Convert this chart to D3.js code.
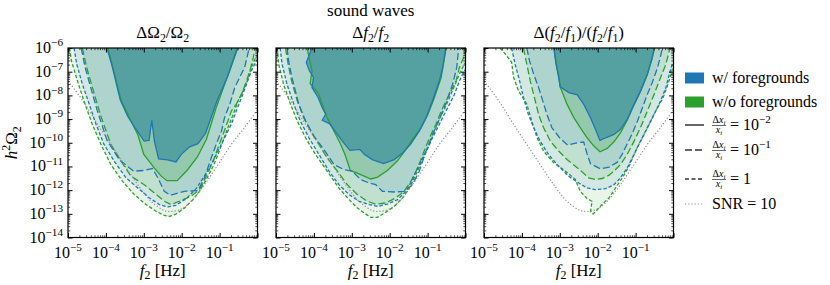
<!DOCTYPE html>
<html>
<head>
<meta charset="utf-8">
<script src="https://cdn.jsdelivr.net/npm/d3@7"></script>
<style>
body { margin: 0; background: #fff; }
</style>
</head>
<body>
<div id="chart"></div>
<script>
// ---- data: contour outlines as [log10 f2, log10 h^2 Omega2] ----
var xMajor = [-5, -4, -3, -2, -1, 0];
var xLabels = [-5, -4, -3, -2, -1];
var yMajor = [-6, -7, -8, -9, -10, -11, -12, -13, -14];

var snrCurve = [[-5.0,-7.40],[-4.93,-7.53],[-4.58,-8.30],[-4.22,-9.22],[-3.87,-10.07],[-3.52,-10.92],[-3.16,-11.77],[-2.81,-12.47],[-2.46,-12.86],[-2.28,-12.90],[-2.01,-12.80],[-1.75,-12.47],[-1.40,-11.77],[-1.04,-10.92],[-0.69,-10.07],[-0.34,-9.35],[0.0,-8.60]];

// panel 1: Delta Omega2 / Omega2
var omegaBlue1 = [[-3.97,-6.0],[-3.83,-6.81],[-3.62,-8.20],[-3.43,-8.87],[-3.21,-9.43],[-2.99,-9.93],[-2.86,-9.90],[-2.79,-9.05],[-2.72,-9.93],[-2.61,-10.68],[-2.37,-10.72],[-2.15,-10.81],[-2.01,-10.49],[-1.79,-10.17],[-1.57,-10.04],[-1.37,-9.60],[-1.06,-8.20],[-0.78,-7.17],[-0.52,-6.0]];
var omegaGreen1 = [[-3.95,-6.0],[-3.82,-6.81],[-3.60,-8.20],[-3.36,-9.01],[-3.16,-9.65],[-3.00,-10.49],[-2.74,-11.03],[-2.54,-11.41],[-2.39,-11.60],[-2.12,-11.60],[-1.86,-11.17],[-1.59,-10.61],[-1.35,-9.86],[-1.09,-8.52],[-0.80,-7.24],[-0.54,-6.0]];
var omegaBlue2 = [[-4.65,-6.0],[-4.55,-6.81],[-4.40,-7.67],[-4.23,-8.63],[-3.97,-9.90],[-3.65,-10.71],[-3.27,-11.20],[-2.99,-11.17],[-2.77,-11.09],[-2.63,-11.48],[-2.46,-12.05],[-2.30,-12.22],[-1.93,-12.05],[-1.57,-12.02],[-1.40,-11.48],[-1.22,-10.64],[-1.09,-10.07],[-0.95,-9.51],[-0.87,-8.94],[-0.73,-8.37],[-0.60,-7.67],[-0.47,-7.24],[-0.34,-6.82],[-0.23,-6.08],[-0.22,-6.0]];
var omegaGreen2 = [[-4.62,-6.0],[-4.51,-6.81],[-4.33,-7.81],[-4.15,-8.80],[-3.87,-10.07],[-3.60,-10.78],[-3.34,-11.41],[-2.99,-11.77],[-2.72,-12.12],[-2.46,-12.47],[-2.28,-12.61],[-2.06,-12.47],[-1.75,-12.26],[-1.53,-11.98],[-1.35,-11.41],[-1.17,-10.78],[-1.04,-10.21],[-0.91,-9.65],[-0.78,-9.08],[-0.69,-8.66],[-0.56,-8.37],[-0.42,-7.95],[-0.29,-7.39],[-0.20,-6.96],[-0.11,-6.40],[-0.07,-6.0]];
var omegaBlue3 = [[-4.84,-6.0],[-4.77,-6.68],[-4.62,-7.53],[-4.44,-8.37],[-4.26,-9.22],[-4.05,-10.07],[-3.78,-10.78],[-3.47,-11.48],[-3.16,-11.91],[-2.85,-12.33],[-2.59,-12.61],[-2.37,-12.71],[-2.15,-12.64],[-1.88,-12.36],[-1.62,-11.94],[-1.40,-11.41],[-1.22,-10.92],[-1.04,-10.35],[-0.87,-9.79],[-0.69,-9.22],[-0.56,-8.66],[-0.42,-8.09],[-0.29,-7.53],[-0.16,-6.96],[-0.03,-6.54],[0.11,-6.25]];
var omegaGreen3 = [[-4.96,-6.0],[-4.91,-6.54],[-4.75,-7.39],[-4.58,-8.23],[-4.36,-9.22],[-4.13,-10.07],[-3.87,-10.92],[-3.56,-11.63],[-3.25,-12.19],[-2.94,-12.61],[-2.67,-12.90],[-2.46,-13.07],[-2.32,-13.11],[-2.15,-13.01],[-1.93,-12.76],[-1.70,-12.40],[-1.53,-12.05],[-1.35,-11.55],[-1.17,-10.99],[-1.04,-10.49],[-0.91,-9.93],[-0.78,-9.36],[-0.64,-8.80],[-0.51,-8.23],[-0.38,-7.81],[-0.27,-7.39],[-0.16,-6.82],[-0.05,-6.40],[0.11,-6.11]];

// panel 2: Delta f2 / f2
var freqBlue1 = [[-4.05,-6.0],[-4.20,-6.61],[-4.12,-6.96],[-4.01,-7.24],[-4.05,-7.67],[-3.89,-8.09],[-3.78,-8.52],[-3.69,-8.80],[-3.78,-9.05],[-3.59,-9.19],[-3.43,-9.53],[-3.25,-9.93],[-3.05,-10.32],[-2.79,-10.28],[-2.67,-10.49],[-2.46,-10.71],[-2.16,-10.88],[-1.88,-10.71],[-1.66,-10.43],[-1.45,-10.07],[-1.22,-9.51],[-1.04,-8.94],[-0.87,-8.23],[-0.69,-7.39],[-0.60,-6.82],[-0.52,-6.0]];
var freqGreen1 = [[-4.18,-6.0],[-4.05,-6.99],[-4.10,-7.50],[-3.88,-7.92],[-3.78,-8.37],[-3.66,-8.91],[-3.47,-9.51],[-3.30,-10.04],[-3.17,-10.54],[-3.04,-11.17],[-2.81,-11.31],[-2.50,-11.53],[-2.33,-11.46],[-2.06,-11.17],[-1.79,-10.75],[-1.57,-10.28],[-1.40,-9.86],[-1.17,-9.36],[-0.99,-8.80],[-0.82,-8.09],[-0.64,-7.24],[-0.51,-6.0]];
var freqBlue2 = [[-4.71,-6.0],[-4.66,-6.61],[-4.58,-7.24],[-4.40,-8.37],[-4.22,-9.08],[-4.00,-9.72],[-3.74,-10.28],[-3.47,-10.92],[-3.21,-11.13],[-2.99,-11.20],[-2.77,-11.55],[-2.54,-11.70],[-2.37,-11.77],[-2.19,-12.05],[-1.88,-12.08],[-1.62,-12.05],[-1.40,-11.77],[-1.22,-11.20],[-1.04,-10.35],[-0.87,-9.65],[-0.69,-9.01],[-0.51,-8.30],[-0.34,-7.53],[-0.23,-6.82],[-0.18,-6.0]];
var freqGreen2 = [[-4.75,-6.0],[-4.68,-6.68],[-4.59,-7.39],[-4.44,-8.23],[-4.27,-8.94],[-4.06,-9.58],[-3.87,-10.07],[-3.65,-10.64],[-3.38,-11.20],[-3.12,-11.77],[-2.85,-12.19],[-2.59,-12.47],[-2.37,-12.59],[-2.10,-12.54],[-1.84,-12.33],[-1.62,-12.05],[-1.44,-11.63],[-1.26,-11.06],[-1.09,-10.35],[-0.95,-9.79],[-0.78,-9.22],[-0.64,-8.66],[-0.51,-8.23],[-0.38,-7.81],[-0.25,-7.39],[-0.16,-6.82],[-0.05,-6.40],[0.02,-6.0]];
var freqBlue3 = [[-4.89,-6.0],[-4.84,-6.68],[-4.71,-7.53],[-4.53,-8.37],[-4.36,-9.08],[-4.13,-9.79],[-3.87,-10.49],[-3.60,-11.20],[-3.34,-11.77],[-3.07,-12.19],[-2.81,-12.47],[-2.54,-12.61],[-2.32,-12.69],[-2.06,-12.59],[-1.79,-12.40],[-1.57,-12.05],[-1.40,-11.55],[-1.22,-10.92],[-1.04,-10.35],[-0.87,-9.79],[-0.69,-9.22],[-0.56,-8.80],[-0.42,-8.37],[-0.29,-7.95],[-0.16,-7.39],[-0.03,-6.96],[0.11,-6.68]];
var freqGreen3 = [[-4.97,-6.0],[-4.93,-6.68],[-4.80,-7.53],[-4.62,-8.37],[-4.44,-9.08],[-4.22,-9.79],[-3.96,-10.49],[-3.65,-11.20],[-3.34,-11.91],[-3.07,-12.40],[-2.85,-12.76],[-2.67,-12.97],[-2.50,-13.15],[-2.32,-13.15],[-2.10,-12.93],[-1.88,-12.69],[-1.66,-12.33],[-1.48,-11.91],[-1.31,-11.34],[-1.13,-10.71],[-0.95,-10.07],[-0.82,-9.51],[-0.69,-9.01],[-0.56,-8.59],[-0.42,-8.09],[-0.29,-7.60],[-0.16,-7.10],[-0.03,-6.68],[0.11,-6.40]];

// panel 3: Delta(f2/f1) / (f2/f1)
var ratioBlue1 = [[-3.16,-6.0],[-3.10,-6.68],[-3.03,-7.24],[-2.99,-7.64],[-2.76,-7.88],[-2.54,-7.98],[-2.37,-8.37],[-2.19,-8.94],[-2.06,-9.43],[-1.97,-9.79],[-1.94,-9.90],[-1.79,-9.79],[-1.57,-9.65],[-1.40,-9.43],[-1.22,-9.01],[-1.04,-8.37],[-0.87,-7.81],[-0.69,-7.10],[-0.56,-6.40],[-0.51,-6.0]];
var ratioGreen1 = [[-3.15,-6.0],[-3.09,-6.68],[-3.02,-7.24],[-2.99,-7.64],[-2.81,-8.37],[-2.63,-8.94],[-2.46,-9.36],[-2.28,-9.79],[-2.10,-10.14],[-1.94,-10.38],[-1.75,-10.24],[-1.57,-9.96],[-1.40,-9.58],[-1.22,-9.05],[-1.04,-8.40],[-0.87,-7.84],[-0.69,-7.13],[-0.56,-6.42],[-0.50,-6.0]];
var ratioBlue2 = [[-3.87,-6.0],[-3.80,-6.54],[-3.69,-7.10],[-3.56,-7.67],[-3.45,-8.23],[-3.34,-8.80],[-3.21,-9.36],[-2.99,-9.82],[-2.79,-10.10],[-2.54,-10.00],[-2.37,-9.97],[-2.28,-10.47],[-2.19,-10.89],[-1.93,-11.10],[-1.70,-11.03],[-1.48,-10.82],[-1.35,-10.47],[-1.22,-10.04],[-1.09,-9.62],[-0.95,-9.08],[-0.82,-8.52],[-0.69,-7.95],[-0.56,-7.46],[-0.42,-6.82],[-0.34,-6.33],[-0.29,-6.0]];
var ratioGreen2 = [[-3.96,-6.0],[-3.87,-6.68],[-3.78,-7.39],[-3.67,-8.09],[-3.56,-8.80],[-3.43,-9.36],[-3.25,-9.93],[-3.03,-10.35],[-2.81,-10.71],[-2.59,-10.99],[-2.41,-11.23],[-2.24,-11.48],[-2.06,-11.55],[-1.88,-11.51],[-1.70,-11.37],[-1.57,-11.20],[-1.40,-10.92],[-1.22,-10.49],[-1.04,-9.93],[-0.87,-9.36],[-0.69,-8.66],[-0.51,-7.95],[-0.34,-7.24],[-0.20,-6.68],[-0.11,-6.11],[-0.09,-6.0]];
var ratioBlue3 = [[-4.27,-6.0],[-4.18,-6.68],[-4.06,-7.39],[-3.96,-8.09],[-3.83,-8.80],[-3.69,-9.36],[-3.52,-9.93],[-3.30,-10.49],[-3.03,-10.99],[-2.77,-11.41],[-2.50,-11.70],[-2.28,-11.91],[-2.06,-11.98],[-1.79,-11.94],[-1.57,-11.77],[-1.40,-11.48],[-1.22,-11.06],[-1.04,-10.49],[-0.87,-9.93],[-0.69,-9.36],[-0.51,-8.80],[-0.34,-8.23],[-0.20,-7.67],[-0.11,-7.10],[-0.03,-6.68],[0.11,-6.40]];
var ratioGreen3 = [[-4.58,-6.0],[-4.44,-6.25],[-4.27,-6.61],[-4.22,-7.24],[-4.09,-7.81],[-3.87,-8.37],[-3.74,-9.08],[-3.60,-9.79],[-3.43,-10.35],[-3.16,-10.85],[-2.85,-11.20],[-2.59,-11.55],[-2.46,-12.05],[-2.28,-12.36],[-2.15,-12.47],[-2.19,-12.90],[-2.12,-13.01],[-2.01,-12.83],[-1.88,-12.59],[-1.70,-12.33],[-1.53,-11.91],[-1.35,-11.48],[-1.17,-10.99],[-1.00,-10.35],[-0.82,-9.79],[-0.64,-9.22],[-0.47,-8.66],[-0.29,-8.16],[-0.16,-7.60],[-0.05,-7.03],[0.02,-6.54],[0.11,-6.25]];

var seriesColors = { blue: "#1f77b4", green: "#2ca02c" };
var panelTitles = [
    [["\u0394\u03a9",""],["2","sub"],["/\u03a9",""],["2","sub"]],
    [["\u0394",""],["f","i"],["2","sub"],["/",""],["f","i"],["2","sub"]],
    [["\u0394(",""],["f","i"],["2","sub"],["/",""],["f","i"],["1","sub"],[")/(",""],["f","i"],["2","sub"],["/",""],["f","i"],["1","sub"],[")",""]]
];
var legendLevels = [["10","\u22122"],["10","\u22121"],["1",""]];

var panels = [
    { title: panelTitles[0], blue: [omegaBlue3, omegaBlue2, omegaBlue1], green: [omegaGreen3, omegaGreen2, omegaGreen1] },
    { title: panelTitles[1], blue: [freqBlue3, freqBlue2, freqBlue1], green: [freqGreen3, freqGreen2, freqGreen1] },
    { title: panelTitles[2], blue: [ratioBlue3, ratioBlue2, ratioBlue1], green: [ratioGreen3, ratioGreen2, ratioGreen1] }
];

// ---- layout ----
var W = 830, H = 285;
var panelX = [68, 276, 484], panelTop = 48, size = 189.5;
var fs = 16, fsTitle = 17;
var serif = "'Liberation Serif'";
// fill layers in drawing order: [series, level index, layer alpha]
var fillOrder = [["green",0,0.1],["green",1,0.111],["blue",0,0.1],["blue",1,0.111],["blue",2,0.55],["green",2,0.2]];
var dashes = ["3.5,2", "7,3", null];

var svg = d3.select("#chart").append("svg")
    .attr("width", W).attr("height", H)
    .style("font-family", serif);

var x = d3.scaleLog().domain([1e-5, 1]).range([0, size]);
var y = d3.scaleLog().domain([1e-14, 1e-6]).range([size, 0]);
function p10(v){ return Math.pow(10, v); }

var line = d3.line()
    .x(function(d){ return x(p10(d[0])); })
    .y(function(d){ return y(p10(d[1])); });
var smooth = d3.line()
    .x(function(d){ return x(p10(d[0])); })
    .y(function(d){ return y(p10(d[1])); })
    .curve(d3.curveCatmullRom);

function txt(sel, size){
    return sel.append("text")
	.style("font-family", serif)
	.style("font-size", size + "px")
	.attr("fill", "#000");
}

// rich text with italic / sub / sup pieces
function rich(sel, parts, size){
    var cur = 0;
    parts.forEach(function(p){
	var off = 0;
	if (p[1] == "sub" || p[1] == "isub") off = size * 0.22;
	if (p[1] == "sup") off = -size * 0.42;
	var ts = sel.append("tspan").attr("dy", off - cur).text(p[0]);
	cur = off;
	if (p[1] == "sub" || p[1] == "sup" || p[1] == "isub") ts.style("font-size", (size * 0.7) + "px");
	if (p[1] == "i" || p[1] == "isub") ts.style("font-style", "italic");
    });
}

function closed(pts){
    var a = pts[0], b = pts[pts.length - 1];
    return [[a[0], -5]].concat(pts).concat([[b[0], -5]]);
}

var minorX = [], minorY = [];
for (var d = -5; d < 0; d++) for (var k = 2; k < 10; k++) minorX.push(k * p10(d));
for (var d = -14; d < -6; d++) for (var k = 2; k < 10; k++) minorY.push(k * p10(d));

panels.forEach(function(pn, i){
    var g = svg.append("g").attr("transform", "translate(" + panelX[i] + "," + panelTop + ")");

    g.append("clipPath").attr("id", "clip" + i)
	.append("rect").attr("width", size).attr("height", size);

    var plot = g.append("g").attr("clip-path", "url(#clip" + i + ")");

    fillOrder.forEach(function(f){
	plot.append("path")
	    .attr("d", line(closed(pn[f[0]][f[1]])) + "Z")
	    .attr("fill", seriesColors[f[0]])
	    .attr("fill-opacity", f[2])
	    .attr("stroke", "none");
    });
    ["green", "blue"].forEach(function(c){
	pn[c].forEach(function(pts, j){
	    plot.append("path")
		.attr("d", line(pts))
		.attr("fill", "none")
		.attr("stroke", seriesColors[c])
		.attr("stroke-width", 1.3)
		.attr("stroke-dasharray", dashes[j]);
	});
    });

    plot.append("path")
	.attr("d", smooth(snrCurve))
	.attr("fill", "none")
	.attr("stroke", "#8c8c8c")
	.attr("stroke-width", 1.2)
	.attr("stroke-dasharray", "1.2,2");

    // ticks, all pointing inwards
    var majX = xMajor.map(p10), majY = yMajor.map(p10);
    var axes = [
	[d3.axisBottom(x), "translate(0," + size + ")", majX, minorX],
	[d3.axisTop(x), null, majX, minorX],
	[d3.axisLeft(y), null, majY, minorY],
	[d3.axisRight(y), "translate(" + size + ",0)", majY, minorY]
    ];
    axes.forEach(function(a){
	[[a[2], 4.5, 1], [a[3], 2.2, 0.7]].forEach(function(t){
	    var ax = g.append("g")
		.attr("transform", a[1])
		.call(a[0].tickValues(t[0]).tickSize(-t[1]).tickFormat(""));
	    ax.select(".domain").remove();
	    ax.selectAll("line").attr("stroke", "#000").attr("stroke-width", t[2]);
	});
    });

    g.append("rect")
	.attr("width", size).attr("height", size)
	.attr("fill", "none").attr("stroke", "#000").attr("stroke-width", 1.2);

    // x tick labels
    xLabels.forEach(function(v){
	var t = txt(g, fs)
	    .attr("x", x(p10(v))).attr("y", size + 20)
	    .attr("text-anchor", "middle");
	rich(t, [["10",""],["\u2212" + (-v), "sup"]], fs);
    });

    // x axis title
    var xt = txt(g, fsTitle)
	.attr("x", size / 2).attr("y", size + 38)
	.attr("text-anchor", "middle");
    rich(xt, [["f","i"],["2","sub"],[" [Hz]",""]], fsTitle);

    // panel title
    var tt = txt(g, fsTitle)
	.attr("x", size / 2).attr("y", -10)
	.attr("text-anchor", "middle");
    rich(tt, pn.title, fsTitle);

    if (i == 0) {
	yMajor.forEach(function(v){
	    var t = txt(g, fs)
		.attr("x", -5).attr("y", y(p10(v)) + 5)
		.attr("text-anchor", "end");
	    rich(t, [["10",""],["\u2212" + (-v), "sup"]], fs);
	});
	var yt = txt(g, fsTitle)
	    .attr("transform", "translate(-51," + (size / 2) + ") rotate(-90)")
	    .attr("text-anchor", "middle");
	rich(yt, [["h","i"],["2","sup"],["\u03a9",""],["2","sub"]], fsTitle);
    }
});

// figure title
txt(svg, fsTitle)
    .attr("x", panelX[1] + size / 2).attr("y", 16)
    .attr("text-anchor", "middle")
    .text("sound waves");

// ---- legend ----
var lg = svg.append("g").attr("transform", "translate(685,0)");
var patches = [["blue", "w/ foregrounds", 78], ["green", "w/o foregrounds", 102]];
patches.forEach(function(p){
    lg.append("rect")
	.attr("x", 0).attr("y", p[2] - 5.5)
	.attr("width", 19).attr("height", 11)
	.attr("fill", seriesColors[p[0]]);
    txt(lg, fs)
	.attr("x", 27).attr("y", p[2] + 5)
	.text(p[1]);
});

var rowsY = [125, 150, 179];
var legendDash = [null, "7,3", "4,2.5"];
legendLevels.forEach(function(lv, j){
    var ry = rowsY[j];
    lg.append("line")
	.attr("x1", 0).attr("x2", 19).attr("y1", ry).attr("y2", ry)
	.attr("stroke", "#333").attr("stroke-width", 1.5)
	.attr("stroke-dasharray", legendDash[j]);
    var num = txt(lg, 10).attr("x", 34).attr("y", ry - 2)
	.attr("text-anchor", "middle");
    rich(num, [["\u0394",""],["x","i"],["i","isub"]], 10);
    var den = txt(lg, 10).attr("x", 34).attr("y", ry + 8)
	.attr("text-anchor", "middle");
    rich(den, [["x","i"],["i","isub"]], 10);
    lg.append("line")
	.attr("x1", 27).attr("x2", 41).attr("y1", ry + 0.5).attr("y2", ry + 0.5)
	.attr("stroke", "#000").attr("stroke-width", 0.6);
    var eq = txt(lg, fs).attr("x", 45).attr("y", ry + 5);
    var parts = [["= " + lv[0], ""]];
    if (lv[1]) parts.push([lv[1], "sup"]);
    rich(eq, parts, fs);
});

lg.append("line")
    .attr("x1", 0).attr("x2", 19).attr("y1", 204).attr("y2", 204)
    .attr("stroke", "#8c8c8c").attr("stroke-width", 1.2)
    .attr("stroke-dasharray", "1.2,2");
txt(lg, fs)
    .attr("x", 27).attr("y", 209)
    .text("SNR = 10");
</script>
</body>
</html>
